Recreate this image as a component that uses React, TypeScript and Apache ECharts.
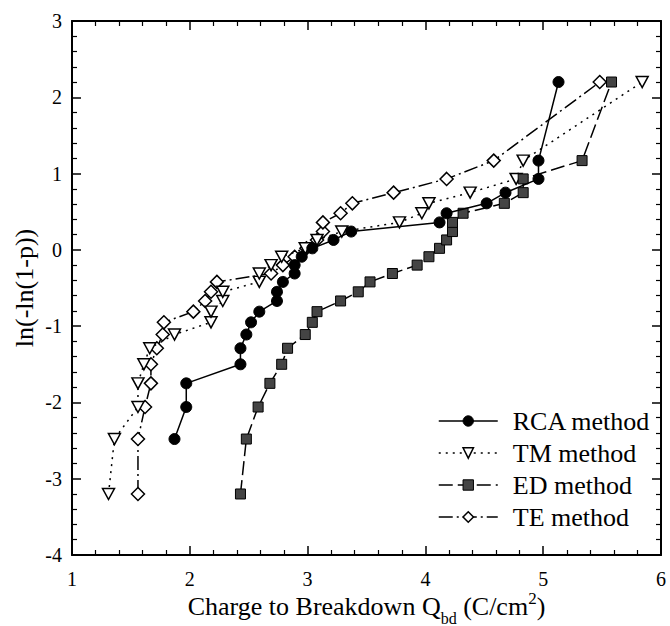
import React, { useEffect, useRef } from "react";
import * as echarts from "echarts";

// Weibull plotting positions ln(-ln(1-p))
const weibullY = [-3.2, -2.48, -2.06, -1.75, -1.5, -1.29, -1.11, -0.95, -0.81, -0.67, -0.55, -0.42, -0.31, -0.2, -0.09, 0.02, 0.13, 0.24, 0.36, 0.48, 0.61, 0.75, 0.93, 1.17, 2.2];
const rcaY = [-2.48, -2.06, -1.75, -1.5, -1.29, -1.11, -0.95, -0.81, -0.67, -0.55, -0.42, -0.31, -0.2, -0.09, 0.02, 0.13, 0.24, 0.36, 0.48, 0.61, 0.75, 0.93, 1.17, 2.2];

// Charge to breakdown values (C/cm^2)
const rcaQ = [1.87, 1.97, 1.97, 2.43, 2.43, 2.48, 2.52, 2.59, 2.74, 2.74, 2.79, 2.89, 2.89, 2.95, 3.04, 3.22, 3.37, 4.12, 4.18, 4.52, 4.68, 4.96, 4.96, 5.13];
const tmQ = [1.31, 1.36, 1.56, 1.56, 1.61, 1.66, 1.87, 2.18, 2.18, 2.28, 2.28, 2.59, 2.59, 2.69, 2.78, 2.98, 3.08, 3.29, 3.78, 3.97, 4.03, 4.38, 4.77, 4.83, 5.84];
const edQ = [2.43, 2.48, 2.58, 2.68, 2.78, 2.83, 2.98, 3.04, 3.08, 3.28, 3.43, 3.53, 3.72, 3.93, 4.03, 4.12, 4.18, 4.23, 4.23, 4.32, 4.67, 4.83, 4.83, 5.33, 5.58];
const teQ = [1.56, 1.56, 1.62, 1.67, 1.67, 1.72, 1.77, 1.78, 2.03, 2.13, 2.18, 2.23, 2.69, 2.79, 2.89, 2.99, 3.08, 3.13, 3.13, 3.28, 3.38, 3.73, 4.18, 4.58, 5.48];

const seriesNames = ["RCA method", "TM method", "ED method", "TE method"];
const xRange = [1, 6];
const yRange = [-4, 3];

const FONT = "Liberation Serif";

const pairs = (xs: number[], ys: number[]) => xs.map((x, i) => [x, ys[i]]);

export default function App() {
  const ref = useRef<HTMLDivElement>(null);
  useEffect(() => {
    if (!ref.current) return;
    const chart = echarts.init(ref.current, null, { renderer: "svg" });

    const axisLine = { show: true, onZero: false, lineStyle: { color: "#000", width: 2 } };
    const axisTick = { show: true, inside: true, length: 9, lineStyle: { color: "#000", width: 1.5 } };
    const minorTick = { show: true, splitNumber: 5, length: 5, lineStyle: { color: "#000", width: 1.2 } };

    const lineDash = {
      rca: "solid" as any,
      tm: [2, 5],
      ed: [14, 5],
      te: [14, 4, 2, 4],
    };

    chart.setOption({
      animation: false,
      backgroundColor: "#fff",
      textStyle: { fontFamily: FONT },
      grid: { left: 72, right: 9, top: 21, bottom: 71, containLabel: false, outerBoundsMode: "none" },
      xAxis: [
        {
          type: "value",
          min: xRange[0],
          max: xRange[1],
          interval: 1,
          position: "bottom",
          axisLine,
          axisTick,
          minorTick,
          splitLine: { show: false },
          axisLabel: { fontSize: 20, fontFamily: FONT, color: "#000", margin: 14 },
          name: "{a|Charge to Breakdown Q}{sub|bd}{a| (C/cm}{sup|2}{a|)}",
          nameLocation: "middle",
          nameGap: 31,
          nameMoveOverlap: false,
          nameTextStyle: {
            fontFamily: FONT,
            color: "#000",
            rich: {
              a: { fontSize: 26, fontFamily: FONT, color: "#000", lineHeight: 40 },
              sub: { fontSize: 16, fontFamily: FONT, color: "#000", verticalAlign: "bottom" },
              sup: { fontSize: 17, fontFamily: FONT, color: "#000", verticalAlign: "top", padding: [4, 0, 0, 0] },
            },
          },
        },
        {
          type: "value",
          min: xRange[0],
          max: xRange[1],
          interval: 1,
          position: "top",
          axisLine,
          axisTick,
          minorTick,
          splitLine: { show: false },
          axisLabel: { show: false },
        },
      ],
      yAxis: [
        {
          type: "value",
          min: yRange[0],
          max: yRange[1],
          interval: 1,
          position: "left",
          axisLine,
          axisTick,
          minorTick,
          splitLine: { show: false },
          axisLabel: { fontSize: 20, fontFamily: FONT, color: "#000", margin: 10 },
          name: "ln(-ln(1-p))",
          nameLocation: "middle",
          nameGap: 35,
          nameMoveOverlap: false,
          nameTextStyle: { fontSize: 26, fontFamily: FONT, color: "#000" },
        },
        {
          type: "value",
          min: yRange[0],
          max: yRange[1],
          interval: 1,
          position: "right",
          axisLine,
          axisTick,
          minorTick,
          splitLine: { show: false },
          axisLabel: { show: false },
        },
      ],
      legend: {
        orient: "vertical",
        left: 433,
        top: 403,
        itemWidth: 59,
        itemHeight: 13,
        itemGap: 6,
        textStyle: { fontSize: 26, fontFamily: FONT, color: "#000", padding: [0, 0, 0, 10] },
        data: [
          {
            name: seriesNames[0],
            itemStyle: { color: "#000", borderColor: "#000", borderWidth: 1 },
            lineStyle: { color: "#000", width: 1.5, type: lineDash.rca },
          },
          {
            name: seriesNames[1],
            itemStyle: { color: "#fff", borderColor: "#000", borderWidth: 1.5 },
            lineStyle: { color: "#000", width: 1.5, type: lineDash.tm },
          },
          {
            name: seriesNames[2],
            itemStyle: { color: "#444", borderColor: "#000", borderWidth: 1 },
            lineStyle: { color: "#000", width: 1.5, type: lineDash.ed },
          },
          {
            name: seriesNames[3],
            itemStyle: { color: "#fff", borderColor: "#000", borderWidth: 1.5 },
            lineStyle: { color: "#000", width: 1.5, type: lineDash.te },
          },
        ],
      },
      series: [
        {
          name: seriesNames[3],
          type: "line",
          data: pairs(teQ, weibullY),
          symbol: "diamond",
          symbolSize: 13,
          lineStyle: { color: "#000", width: 1.5, type: lineDash.te },
          itemStyle: { color: "#fff", borderColor: "#000", borderWidth: 1.5 },
          z: 2,
        },
        {
          name: seriesNames[1],
          type: "line",
          data: pairs(tmQ, weibullY),
          symbol: "triangle",
          symbolRotate: 180,
          symbolSize: [12, 11],
          lineStyle: { color: "#000", width: 1.5, type: lineDash.tm },
          itemStyle: { color: "#fff", borderColor: "#000", borderWidth: 1.5 },
          z: 3,
        },
        {
          name: seriesNames[2],
          type: "line",
          data: pairs(edQ, weibullY),
          symbol: "rect",
          symbolSize: 10,
          lineStyle: { color: "#000", width: 1.5, type: lineDash.ed },
          itemStyle: { color: "#444", borderColor: "#000", borderWidth: 1 },
          z: 4,
        },
        {
          name: seriesNames[0],
          type: "line",
          data: pairs(rcaQ, rcaY),
          symbol: "circle",
          symbolSize: 11,
          lineStyle: { color: "#000", width: 1.5, type: lineDash.rca },
          itemStyle: { color: "#000", borderColor: "#000", borderWidth: 1 },
          z: 5,
        },
      ],
    });
    return () => chart.dispose();
  }, []);
  return (
    <div
      ref={ref}
      style={{ position: "absolute", left: 0, top: 0, width: 670, height: 626 }}
    />
  );
}
